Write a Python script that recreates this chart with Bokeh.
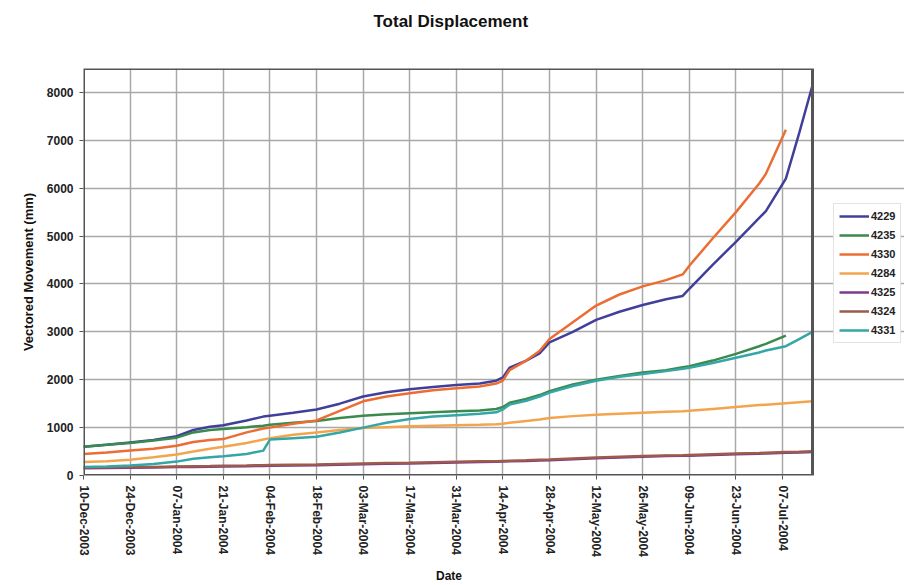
import math
import pandas as pd
from bokeh.plotting import figure
from bokeh.models import (Range1d, FixedTicker, DatetimeTickFormatter, Legend,
                          LegendItem, ColumnDataSource, BoxAnnotation)
from bokeh.embed import file_html
from bokeh.resources import INLINE

# ---------------- data ----------------
dates = [
    "2003-12-10", "2003-12-17", "2003-12-24", "2003-12-31", "2004-01-07",
    "2004-01-12", "2004-01-17", "2004-01-21", "2004-01-28", "2004-02-02",
    "2004-02-04", "2004-02-11", "2004-02-18", "2004-02-25", "2004-03-03",
    "2004-03-10", "2004-03-17", "2004-03-24", "2004-03-31", "2004-04-07",
    "2004-04-12", "2004-04-14", "2004-04-16", "2004-04-21", "2004-04-25",
    "2004-04-28", "2004-05-05", "2004-05-12", "2004-05-19", "2004-05-26",
    "2004-06-02", "2004-06-07", "2004-06-09", "2004-06-16", "2004-06-23",
    "2004-06-30", "2004-07-02", "2004-07-08", "2004-07-12", "2004-07-16",
]

s4229 = [600, 640, 690, 740, 820, 950, 1020, 1050, 1150, 1230,
         1250, 1310, 1380, 1500, 1650, 1740, 1800, 1850, 1890, 1920,
         1980, 2050, 2250, 2400, 2550, 2780, 3000, 3250, 3420, 3560,
         3680, 3750, 3900, 4400, 4880, 5380, 5520, 6200, 7150, 8150]
s4235 = [600, 640, 680, 730, 790, 900, 950, 970, 1010, 1040,
         1060, 1100, 1140, 1200, 1250, 1280, 1300, 1320, 1340, 1360,
         1390, 1430, 1520, 1600, 1680, 1760, 1900, 2000, 2080, 2150,
         2200, 2260, 2280, 2400, 2540, 2700, 2750, 2920]
s4330 = [450, 480, 520, 560, 620, 700, 740, 760, 900, 980,
         1000, 1080, 1150, 1350, 1550, 1650, 1720, 1780, 1820, 1860,
         1920, 1980, 2200, 2400, 2600, 2850, 3200, 3550, 3780, 3950,
         4080, 4200, 4380, 4950, 5500, 6100, 6300, 7220]
s4284 = [280, 300, 330, 380, 440, 500, 560, 600, 680, 750,
         780, 850, 900, 950, 990, 1010, 1030, 1040, 1050, 1060,
         1070, 1080, 1100, 1140, 1170, 1200, 1240, 1270, 1290, 1310,
         1330, 1340, 1350, 1390, 1430, 1470, 1480, 1510, 1530, 1550]
s4325 = [150, 155, 160, 165, 175, 180, 185, 190, 195, 200,
         205, 210, 215, 225, 235, 245, 250, 260, 270, 280,
         285, 290, 295, 305, 315, 320, 340, 360, 375, 390,
         405, 410, 415, 430, 445, 455, 460, 475, 480, 490]
s4324 = [165, 170, 175, 180, 190, 195, 200, 205, 210, 215,
         220, 225, 230, 240, 250, 260, 265, 275, 285, 295,
         300, 305, 310, 320, 330, 335, 355, 375, 390, 405,
         420, 425, 430, 445, 460, 470, 475, 490, 495, 505]
s4331 = [180, 190, 210, 240, 290, 350, 380, 400, 450, 520,
         750, 780, 810, 900, 1000, 1100, 1180, 1230, 1260, 1290,
         1320, 1380, 1480, 1560, 1650, 1730, 1870, 1980, 2060, 2120,
         2180, 2230, 2250, 2350, 2460, 2570, 2610, 2700, 2850, 3000]

series_names = ["4229", "4235", "4330", "4284", "4325", "4324", "4331"]
series_values = [s4229, s4235, s4330, s4284, s4325, s4324, s4331]
series_colors = ["#40409b", "#3a8a4e", "#ec6d33", "#f3a54e", "#7d3a8c", "#9c5b4c", "#35a6a6"]

tick_dates = ["2003-12-10", "2003-12-24", "2004-01-07", "2004-01-21", "2004-02-04",
              "2004-02-18", "2004-03-03", "2004-03-17", "2004-03-31", "2004-04-14",
              "2004-04-28", "2004-05-12", "2004-05-26", "2004-06-09", "2004-06-23",
              "2004-07-07"]
y_ticks = [0, 1000, 2000, 3000, 4000, 5000, 6000, 7000, 8000]

x_start, x_end = "2003-12-10", "2004-07-16"
y_start, y_end = 0, 8500

FONT = "Liberation Sans"

# ---------------- layout geometry ----------------
W, H = 904, 585
BORDER_L, BORDER_T, BORDER_B = 83, 68, 108
PLOT_RIGHT = 812          # right edge of the gridded plot area (px)

xs_ms = pd.Timestamp(x_start).value // 10**6
xe_ms = pd.Timestamp(x_end).value // 10**6
# the frame extends to the page edge so the legend can sit beside the grid
frame_end_ms = xs_ms + (xe_ms - xs_ms) * (W - BORDER_L) / (PLOT_RIGHT - BORDER_L)

p = figure(width=W, height=H, x_axis_type="datetime",
           output_backend="svg", toolbar_location=None,
           x_range=Range1d(xs_ms, frame_end_ms),
           y_range=Range1d(y_start, y_end),
           min_border_left=BORDER_L, min_border_right=0,
           min_border_top=BORDER_T, min_border_bottom=BORDER_B)

p.background_fill_color = "white"
p.border_fill_color = "white"
p.outline_line_color = None

p.title.text = "Total Displacement\n \n "
p.title.align = "left"
p.title.offset = 290
p.title.text_font = FONT
p.title.text_font_size = "17px"
p.title.text_font_style = "bold"
p.title.text_color = "#111111"
p.title.standoff = 0

# x axis
tick_ms = [pd.Timestamp(d).value // 10**6 for d in tick_dates]
p.xaxis.ticker = FixedTicker(ticks=tick_ms)
fmt = "%d-%b-%Y"
p.xaxis.formatter = DatetimeTickFormatter(
    microseconds=fmt, milliseconds=fmt, seconds=fmt, minsec=fmt, minutes=fmt,
    hourmin=fmt, hours=fmt, days=fmt, months=fmt, years=fmt)
p.xaxis.major_label_orientation = -math.pi / 2
# non-breaking padding keeps "Date" centred under the gridded area
p.xaxis.axis_label = "Date" + "\u00a0" * 27
p.xaxis.axis_label_standoff = 9
p.xaxis.major_label_standoff = 6
p.xaxis.bounds = (xs_ms, xe_ms)

# y axis
p.yaxis.ticker = FixedTicker(ticks=y_ticks)
p.yaxis.axis_label = "Vectored Movement (mm)"
p.yaxis.axis_label_standoff = 8
p.yaxis.major_label_standoff = 6

for ax in (p.xaxis, p.yaxis):
    ax.axis_line_color = None
    ax.major_tick_out = 4
    ax.major_tick_in = 0
    ax.major_tick_line_color = "#555555"
    ax.minor_tick_line_color = None
    ax.major_label_text_font = FONT
    ax.major_label_text_font_size = "12px"
    ax.major_label_text_font_style = "bold"
    ax.major_label_text_color = "#222222"
    ax.axis_label_text_font = FONT
    ax.axis_label_text_font_style = "bold"
    ax.axis_label_text_color = "#111111"
p.xaxis.axis_label_text_font_size = "12px"
p.yaxis.axis_label_text_font_size = "13px"

p.xgrid.grid_line_color = "#a8a8a8"
p.ygrid.grid_line_color = "#a8a8a8"
p.xgrid.grid_line_width = 1.5
p.ygrid.grid_line_width = 1.5
p.ygrid.bounds = (xs_ms, xe_ms)

# plot-area border
p.add_layout(BoxAnnotation(left=xs_ms, right=xe_ms, bottom=y_start, top=y_end,
                           fill_alpha=0, fill_color=None,
                           line_color="#555555", line_alpha=1.0, line_width=3))

# lines
items = []
for name, vals, col in zip(series_names, series_values, series_colors):
    src = ColumnDataSource(dict(x=pd.to_datetime(dates[:len(vals)]), y=vals))
    r = p.line("x", "y", source=src, line_color=col, line_width=2.5)
    items.append(LegendItem(label=name, renderers=[r]))

legend = Legend(items=items, location=(750, 132))
legend.label_text_font = FONT
legend.label_text_font_size = "11px"
legend.label_text_font_style = "bold"
legend.label_text_color = "#222222"
legend.label_standoff = 2
legend.glyph_width = 30
legend.glyph_height = 14
legend.label_height = 14
legend.spacing = 5
legend.padding = 5
legend.margin = 0
legend.border_line_color = "#c8c8c8"
legend.border_line_width = 1
legend.background_fill_color = "white"
p.add_layout(legend, "center")

open("out.html", "w").write(file_html(p, INLINE))
